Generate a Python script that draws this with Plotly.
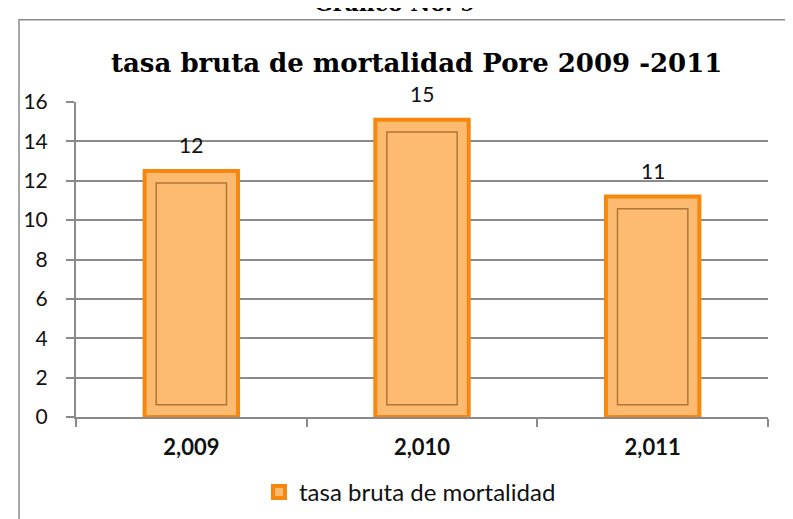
import plotly.graph_objects as go

years = ["2,009", "2,010", "2,011"]
rates = [12.5, 15.1, 11.2]
rate_labels = ["12", "15", "11"]
y_ticks = [0, 2, 4, 6, 8, 10, 12, 14, 16]
series_name = "tasa bruta de mortalidad"
title_text = "tasa bruta de mortalidad Pore 2009 -2011"
top_caption = "Gráfico No. 9"

L, R, T, B = 68, 33, 94, 107
W, H = 793, 519
pw = W - L - R
ph = H - T - B

def px_x(px):
    return (px - L) / pw

def px_y(py):
    return (H - B - py) / ph

inset = 0.62  # bevel inset in value units

fig = go.Figure()
fig.add_trace(go.Bar(
    x=years, y=rates, name=series_name, width=0.405,
    marker=dict(color="#FDBB72", line=dict(color="#F7880F", width=4)),
    showlegend=True, hoverinfo="skip",
))
fig.add_trace(go.Bar(
    x=years, y=[r - 2 * inset for r in rates], base=[inset] * len(rates), width=0.305,
    marker=dict(color="#FDBB72", line=dict(color="rgba(150,95,35,0.75)", width=1.5)),
    showlegend=False, hoverinfo="skip",
))

for xv, yv, t in zip(years, rates, rate_labels):
    fig.add_annotation(x=xv, y=yv, text=t, showarrow=False, yanchor="bottom",
                       yshift=12, font=dict(family="Lato", size=21, color="#111111"))

fig.add_annotation(xref="paper", yref="paper", x=px_x(408), y=px_y(55), text=f"<b>{title_text}</b>",
                   showarrow=False, xanchor="center", yanchor="middle",
                   font=dict(family="DejaVu Serif", size=26, color="#000000"))
fig.add_annotation(xref="paper", yref="paper", x=px_x(386), y=px_y(9), text=f"<b>{top_caption}</b>",
                   showarrow=False, xanchor="center", yanchor="bottom",
                   font=dict(family="DejaVu Serif", size=22, color="#000000"))

fig.add_shape(type="rect", xref="paper", yref="paper",
              x0=px_x(11), x1=px_x(900), y0=px_y(700), y1=px_y(11),
              line=dict(color="#8a8a8a", width=1.5), fillcolor="rgba(0,0,0,0)", layer="below")

fig.update_layout(
    width=W, height=H,
    margin=dict(l=L, r=R, t=T, b=B, pad=0),
    paper_bgcolor="white", plot_bgcolor="white",
    barmode="overlay",
    showlegend=True,
    legend=dict(orientation="h", x=px_x(402), y=px_y(488), xanchor="center", yanchor="middle",
                font=dict(family="Lato", size=24, color="#111111"), itemwidth=30),
    xaxis=dict(showline=True, linecolor="#8a8a8a", linewidth=2, ticks="outside", ticklen=8,
               tickcolor="#8a8a8a", tickwidth=2, showgrid=False, tickson="boundaries",
               tickfont=dict(family="Lato", size=22, color="#111111", weight="bold"),
               ticklabelstandoff=10),
    yaxis=dict(range=[0, 16], tickvals=y_ticks, showline=True, linecolor="#8a8a8a", linewidth=2,
               ticks="outside", ticklen=8, tickcolor="#8a8a8a", tickwidth=2,
               showgrid=True, gridcolor="#8a8a8a", gridwidth=2, zeroline=False,
               tickfont=dict(family="Lato", size=21, color="#111111"), ticklabelstandoff=14),
)

fig.write_html("out.html")
